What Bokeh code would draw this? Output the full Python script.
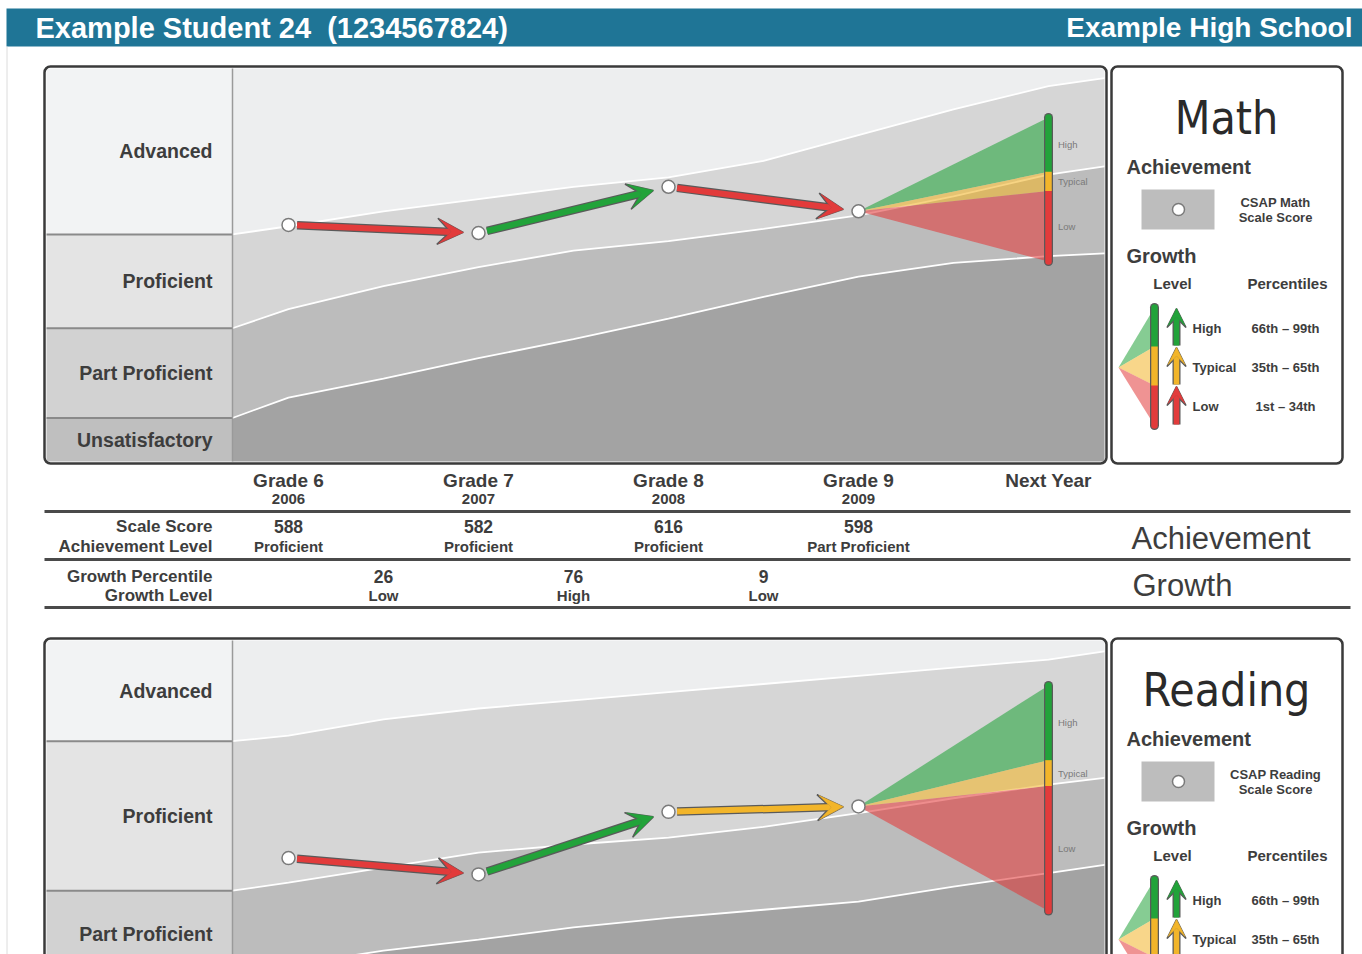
from bokeh.plotting import figure
from bokeh.models import Range1d, Arrow, VeeHead, BoxAnnotation
from bokeh.core.properties import value
from bokeh.embed import file_html
from bokeh.resources import INLINE

# ---------------- data ----------------
student = "Example Student 24\u00a0 (1234567824)"
school = "Example High School"
grade_nums = [6, 7, 8, 9]
grade_labels = ["Grade 6", "Grade 7", "Grade 8", "Grade 9"]
years = ["2006", "2007", "2008", "2009"]
next_label = "Next Year"
next_grade = 10

math_scores = [588, 582, 616, 598]
math_levels = ["Proficient", "Proficient", "Proficient", "Part Proficient"]
math_growth_pct = ["26", "76", "9"]
math_growth_lvl = ["Low", "High", "Low"]
math_proj = [561, 613, 627, 667]      # projections: 1st, 35th, 65th, 99th percentile

reading_scores = [617, 605, 651, 655]
reading_growth_lvl = ["Low", "High", "Typical"]
reading_proj = [578, 670, 689, 744]

band_grades = [5.705, 6.0, 6.5, 7.0, 7.5, 8.0, 8.5, 9.0, 9.5, 10.0, 10.295]
math_cut_adv = [581, 587, 598, 607, 616, 623, 635, 654, 673, 690, 696]
math_cut_prof = [512, 526, 543, 557, 569, 576, 585, 595, 609, 625, 631]
math_cut_pp = [446, 461, 475, 490, 504, 519, 535, 550, 560, 565, 567]
read_cut_adv = [703, 707, 719, 727, 733, 739, 745, 751, 757, 763, 769]
read_cut_prof = [593, 599, 610, 621, 627, 632, 640, 650, 661, 671, 676]
read_cut_pp = [530, 538, 549, 557, 566, 573, 579, 585, 596, 606, 612]

achievement_levels = ["Advanced", "Proficient", "Part Proficient", "Unsatisfactory"]
growth_levels = ["High", "Typical", "Low"]
growth_pcts = ["66th \u2013 99th", "35th \u2013 65th", "1st \u2013 34th"]
row_labels = [["Scale Score", "Achievement Level"], ["Growth Percentile", "Growth Level"]]

# ---------------- style ----------------
FONT = value("Liberation Sans")
NARROW = value("'DejaVu Sans Condensed', 'Liberation Sans', sans-serif")
TXT = "#3d3d3d"
HEADER = "#1f7596"
GREEN, YELLOW, RED = "#22a33a", "#f2b52a", "#e23b3b"
LEVEL_COL = {"High": GREEN, "Typical": YELLOW, "Low": RED}
BAND_COLS = ["#edeeef", "#d6d6d6", "#bcbcbc", "#a3a3a3"]
LABEL_COLS = ["#f2f3f4", "#e4e4e4", "#d2d2d2", "#bfbfbf"]

W, H = 1362, 954
PX0, PY0 = 0, 0
PX1, PY1 = PX0 + W, PY0 + H

p = figure(width=W, height=H, x_range=Range1d(PX0, PX1), y_range=Range1d(PY1, PY0),
           output_backend="svg", toolbar_location=None, min_border=0,
           x_axis_location=None, y_axis_location=None)
p.grid.visible = False
p.outline_line_color = None
p.background_fill_color = "white"
p.border_fill_color = "white"


def make_range(d0, d1, p0, p1, c0, c1):
    k = (d1 - d0) / (p1 - p0)
    return Range1d(start=d0 + (c0 - p0) * k, end=d0 + (c1 - p0) * k)


# grade axis: grade 6 at x=288, grade 10 at x=1048
p.extra_x_ranges["grade"] = make_range(6, 10, 288, 1048, PX0, PX1)


def txt(x, y, s, size, align="left", bold=False, color=TXT, font=FONT, **kw):
    p.text(x=x, y=y, text=s, text_font=font, text_font_size=f"{size}px",
           text_align=align, text_baseline="middle", text_color=color,
           text_font_style="bold" if bold else "normal", **kw)


def add_arrow(x0, y0, x1, y1, color, lw=6, size=24, **kw):
    p.add_layout(Arrow(x_start=x0, y_start=y0, x_end=x1, y_end=y1, line_color="#5a5a5a",
                       line_width=lw + 2.5, end=VeeHead(size=size + 2, fill_color="#5a5a5a",
                                                        line_color="#5a5a5a", line_width=1.5),
                       **kw))
    p.add_layout(Arrow(x_start=x0, y_start=y0, x_end=x1, y_end=y1, line_color=color,
                       line_width=lw, end=VeeHead(size=size, fill_color=color,
                                                   line_color=color, line_width=0.5), **kw))


# ---------------- header ----------------
p.quad(left=6, right=PX1, top=8, bottom=46, fill_color=HEADER, line_color=None)
p.segment(x0=6.5, y0=46, x1=6.5, y1=PY1, line_color="#dcdcdc", line_width=1)
txt([35], [27], [student], 29, bold=True, color="white")
txt([1352], [27], [school], 28, align="right", bold=True, color="white")


# ---------------- panels ----------------
def panel(name, domain, box_top, scores, cuts, growth_lvl, proj):
    d0, d1 = domain
    in_top, in_bot = box_top + 2, box_top + 395
    p.extra_y_ranges[name] = make_range(d0, d1, in_bot, in_top, PY1, PY0)

    def to_px(s):
        return in_bot - (s - d0) * (in_bot - in_top) / (d1 - d0)

    yk = dict(y_range_name=name)
    gk = dict(x_range_name="grade", y_range_name=name)
    n = len(band_grades)
    adv, prof, pp = cuts
    layers = [(adv, [d1] * n), (prof, adv), (pp, prof), ([d0] * n, pp)]
    for (lo, hi), col in zip(layers, BAND_COLS):
        p.varea(x=band_grades, y1=lo, y2=hi, fill_color=col, **gk)
    for c in cuts:
        p.line(band_grades, c, line_color="white", line_width=1.8, **gk)
    # label column
    bounds = [d1, adv[0], prof[0], pp[0], d0]
    for i, lab in enumerate(achievement_levels):
        p.quad(left=46, right=232, top=bounds[i], bottom=bounds[i + 1],
               fill_color=LABEL_COLS[i], line_color=None, **yk)
        mid = (bounds[i] + bounds[i + 1]) / 2
        if to_px(mid) < PY1 - 12:          # only labels that fall on the page
            txt([212], [mid], [lab], 19.5, align="right", bold=True, **yk)
    p.segment(x0=46, x1=232, y0=bounds[1:4], y1=bounds[1:4], line_color="#8a8a8a", line_width=2, **yk)
    p.segment(x0=232, x1=232, y0=in_top, y1=in_bot, line_color="#9a9a9a", line_width=1.5)
    # growth cone to next year
    g9, s9 = grade_nums[-1], scores[-1]
    tri = [(proj[2], proj[3], GREEN), (proj[1], proj[2], YELLOW), (proj[0], proj[1], RED)]
    for lo, hi, col in tri:
        p.patch([g9, next_grade, next_grade], [s9, hi, lo], fill_color=col, fill_alpha=0.58,
                line_color=None, **gk)
    p.segment(x0=next_grade, x1=next_grade, y0=proj[0], y1=proj[3], line_color="#5a5a5a",
              line_width=9, line_cap="round", **gk)
    p.segment(x0=next_grade, x1=next_grade, y0=proj[2], y1=proj[3], line_color=GREEN,
              line_width=6.5, line_cap="round", **gk)
    p.segment(x0=next_grade, x1=next_grade, y0=proj[0], y1=proj[1], line_color=RED,
              line_width=6.5, line_cap="round", **gk)
    p.segment(x0=next_grade, x1=next_grade, y0=proj[1], y1=proj[2], line_color=YELLOW,
              line_width=6.5, line_cap="butt", **gk)
    mids = [(proj[2] + proj[3]) / 2, (proj[1] + proj[2]) / 2, (proj[0] + proj[1]) / 2]
    txt([next_grade + 0.05] * 3, mids, growth_levels, 9.5, color="#7a7a7a", **gk)
    # growth arrows
    for i, lvl in enumerate(growth_lvl):
        ga, gb = grade_nums[i], grade_nums[i + 1]
        sa, sb = scores[i], scores[i + 1]
        a, b = 0.045, 0.92
        add_arrow(ga + a, sa + a * (sb - sa), ga + b, sa + b * (sb - sa), LEVEL_COL[lvl], **gk)
    p.scatter(grade_nums, scores, size=13, fill_color="white", line_color="#7a7a7a",
              line_width=1.5, **gk)
    p.add_layout(BoxAnnotation(left=44, right=1106, top=box_top, bottom=box_top + 397,
                               fill_alpha=0, line_color="#3a3a3a", line_alpha=1,
                               line_width=2.5, border_radius=6))


def legend(box_top, title, csap):
    o = box_top - 66
    p.add_layout(BoxAnnotation(left=1111, right=1342, top=box_top, bottom=box_top + 397,
                               fill_alpha=0, line_color="#3a3a3a", line_alpha=1,
                               line_width=2.5, border_radius=6))
    txt([1226], [117 + o], [title], 46, align="center", color="#2a2a2a", font=NARROW)
    txt([1126], [166 + o], ["Achievement"], 20, bold=True)
    p.quad(left=1141, right=1214, top=189 + o, bottom=229 + o, fill_color="#bdbdbd", line_color=None)
    p.scatter([1178], [209 + o], size=12, fill_color="white", line_color="#7a7a7a", line_width=1.5)
    txt([1275, 1275], [202 + o, 217 + o], [csap, "Scale Score"], 13, align="center", bold=True)
    txt([1126], [255 + o], ["Growth"], 20, bold=True)
    txt([1172, 1287], [283 + o, 283 + o], ["Level", "Percentiles"], 15, align="center", bold=True)
    ys = [307 + o, 346 + o, 385 + o, 425 + o]
    cols = [GREEN, YELLOW, RED]
    for i, c in enumerate(cols):
        p.patch([1118, 1154, 1154], [367 + o, ys[i], ys[i + 1]], fill_color=c, fill_alpha=0.55,
                line_color=None)
    p.segment(x0=1154, x1=1154, y0=ys[0], y1=ys[3], line_color="#5a5a5a", line_width=9, line_cap="round")
    p.segment(x0=1154, x1=1154, y0=ys[0], y1=ys[1], line_color=GREEN, line_width=6.5, line_cap="round")
    p.segment(x0=1154, x1=1154, y0=ys[2], y1=ys[3], line_color=RED, line_width=6.5, line_cap="round")
    p.segment(x0=1154, x1=1154, y0=ys[1], y1=ys[2], line_color=YELLOW, line_width=6.5, line_cap="butt")
    for i, c in enumerate(cols):
        add_arrow(1176, ys[i + 1] - 1, 1176, ys[i] + 1, c, lw=5.5, size=17)
    mids = [(ys[i] + ys[i + 1]) / 2 + 1 for i in range(3)]
    keep = [i for i in range(3) if mids[i] < PY1 - 10]   # only rows that fall on the page
    txt([1192] * len(keep), [mids[i] for i in keep], [growth_levels[i] for i in keep], 13, bold=True)
    txt([1285] * len(keep), [mids[i] for i in keep], [growth_pcts[i] for i in keep], 13,
        align="center", bold=True)


panel("math", (414, 703), 66, math_scores, (math_cut_adv, math_cut_prof, math_cut_pp),
      math_growth_lvl, math_proj)
legend(66, "Math", "CSAP Math")
panel("read", (488, 777), 638, reading_scores, (read_cut_adv, read_cut_prof, read_cut_pp),
      reading_growth_lvl, reading_proj)
legend(638, "Reading", "CSAP Reading")

# ---------------- table ----------------
gk = dict(x_range_name="grade")
txt(grade_nums + [next_grade], [480] * 5, grade_labels + [next_label], 19, align="center", bold=True, **gk)
txt(grade_nums, [498] * 4, years, 15, align="center", bold=True, **gk)
p.segment(x0=44, x1=1350, y0=[511, 559, 607], y1=[511, 559, 607], line_color="#4a4a4a", line_width=3)
txt([212, 212], [526, 546], row_labels[0], 17, align="right", bold=True)
txt([212, 212], [576, 595], row_labels[1], 17, align="right", bold=True)
txt(grade_nums, [526] * 4, [str(s) for s in math_scores], 17.5, align="center", bold=True, **gk)
txt(grade_nums, [546] * 4, math_levels, 15, align="center", bold=True, **gk)
gmid = [g + 0.5 for g in grade_nums[:-1]]
txt(gmid, [576] * 3, math_growth_pct, 17.5, align="center", bold=True, **gk)
txt(gmid, [595] * 3, math_growth_lvl, 15, align="center", bold=True, **gk)
txt([1131], [538], ["Achievement"], 31)
txt([1132], [585], ["Growth"], 31)

open("out.html", "w").write(file_html(p, INLINE))
